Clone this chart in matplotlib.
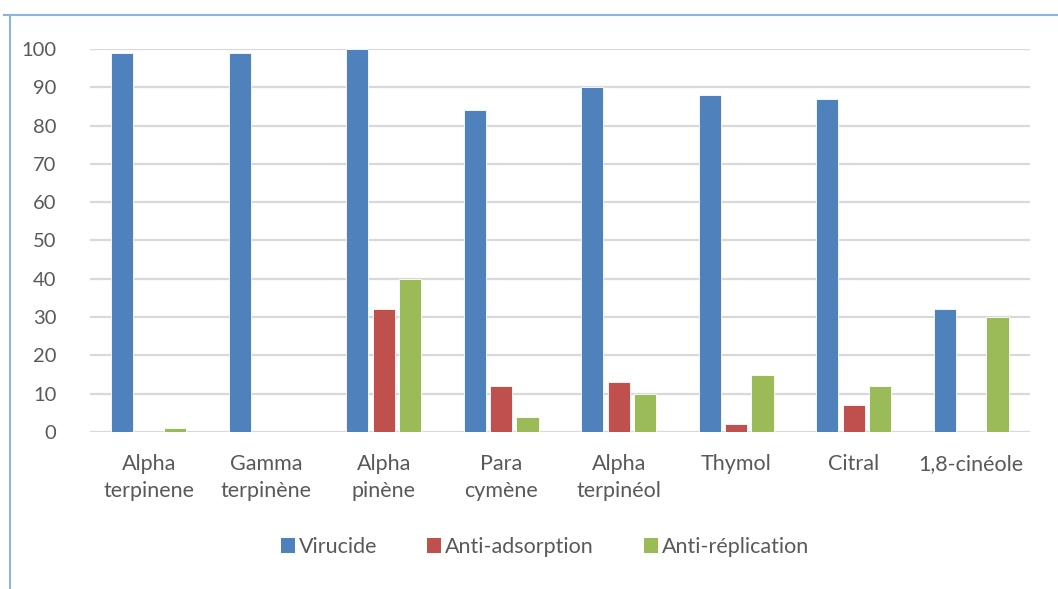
import numpy as np
import matplotlib.pyplot as plt
from matplotlib.lines import Line2D
from matplotlib.patches import Patch

categories = ["Alpha\nterpinene", "Gamma\nterpinène", "Alpha\npinène", "Para\ncymène",
              "Alpha\nterpinéol", "Thymol", "Citral", "1,8-cinéole"]
virucide = [99, 99, 100, 84, 90, 88, 87, 32]
anti_adsorption = [0, 0, 32, 12, 13, 2, 7, 0]
anti_replication = [1, 0, 40, 4, 10, 15, 12, 30]
y_ticks = [0, 10, 20, 30, 40, 50, 60, 70, 80, 90, 100]

series = [("Virucide", virucide, "#4f81bd"),
          ("Anti-adsorption", anti_adsorption, "#c0504d"),
          ("Anti-réplication", anti_replication, "#9bbb59")]

plt.rcParams['font.family'] = ['Lato', 'DejaVu Sans']
text_color = "#595959"

fig = plt.figure(figsize=(10.58, 5.89), dpi=100)
ax = fig.add_axes([0.085, 0.2666, 0.8885, 0.6502])

x = np.arange(len(categories))
width = 0.19
step = 0.225
for i, (name, vals, color) in enumerate(series):
    ax.bar(x + (i - 1) * step, vals, width, color=color, label=name,
           edgecolor="white", linewidth=0.6, zorder=3)

ax.set_xlim(-0.5, len(categories) - 0.5)
ax.set_ylim(0, 100)
ax.set_yticks(y_ticks)
ax.set_xticks(x)
ax.set_xticklabels(categories, linespacing=1.45)
ax.tick_params(axis="both", length=0, colors=text_color)
ax.tick_params(axis="x", pad=16, labelsize=15.5)
ax.tick_params(axis="y", pad=24, labelsize=14.5)
for lbl in ax.get_yticklabels():
    lbl.set_horizontalalignment("right")
ax.yaxis.grid(True, color="#d9d9d9", linewidth=1.6, zorder=0)
ax.set_axisbelow(True)
for s in ax.spines.values():
    s.set_visible(False)

handles = [Patch(facecolor=c, edgecolor="none") for _, _, c in series]
fig.legend(handles, [n for n, _, _ in series], loc="center",
           bbox_to_anchor=(0.515, 1 - 547 / 589), ncol=3, frameon=False,
           fontsize=15.5, labelcolor=text_color, handlelength=0.65,
           handleheight=0.65, handletextpad=0.2, columnspacing=2.3)

# frame edges of the chart area
fig.add_artist(Line2D([4 / 1058, 1], [1 - 15 / 589] * 2, color="#8db3e2",
                      linewidth=1.5, transform=fig.transFigure))
fig.add_artist(Line2D([10 / 1058] * 2, [0, 1 - 15 / 589], color="#8db3e2",
                      linewidth=1.5, transform=fig.transFigure))

fig.savefig("out.png", dpi=100, facecolor="white")
